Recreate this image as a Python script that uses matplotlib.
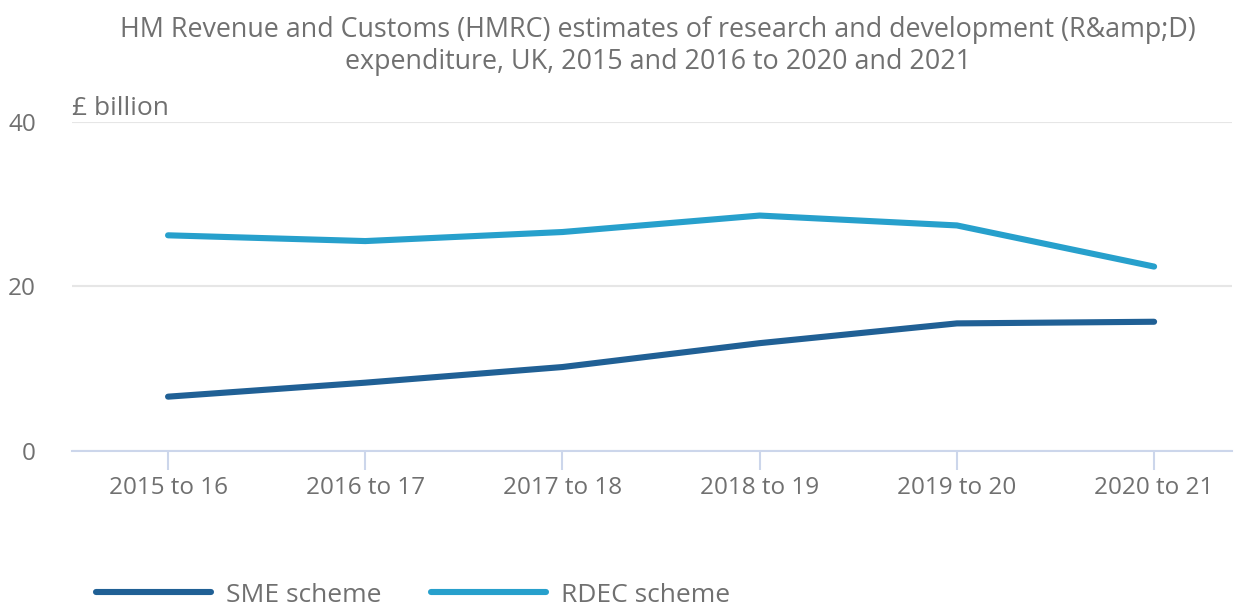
import matplotlib
matplotlib.use("Agg")
import matplotlib.pyplot as plt
import numpy as np

years = ["2015 to 16", "2016 to 17", "2017 to 18", "2018 to 19", "2019 to 20", "2020 to 21"]
sme = [6.6, 8.3, 10.2, 13.1, 15.5, 15.7]
rdec = [26.2, 25.5, 26.6, 28.6, 27.4, 22.4]

TEXT = "#707070"
plt.rcParams["font.family"] = ["Open Sans", "DejaVu Sans"]

fig = plt.figure(figsize=(12.47, 6.07), dpi=100)
ax = fig.add_axes([72 / 1247, 1 - 451 / 607, (1232 - 72) / 1247, (451 - 121.7) / 607])

x = np.arange(len(years))
ax.plot(x, sme, color="#206095", lw=4.4, solid_capstyle="round", label="SME scheme")
ax.plot(x, rdec, color="#27a0cc", lw=4.4, solid_capstyle="round", label="RDEC scheme")

ax.set_xlim(-0.487, 5.395)
ax.set_ylim(0, 40)
ax.set_yticks([0, 20, 40])
ax.yaxis.grid(True, color="#e6e6e6", lw=1.5)
ax.set_axisbelow(True)
for s in ["top", "right", "left"]:
    ax.spines[s].set_visible(False)
ax.spines["bottom"].set_color("#ccd6eb")
ax.spines["bottom"].set_linewidth(1.5)
ax.set_xticks(x)
ax.set_xticklabels(years)
ax.tick_params(axis="x", length=14, width=1.5, color="#ccd6eb", colors=TEXT,
               labelsize=17.5, pad=4)
ax.tick_params(axis="y", length=0, colors=TEXT, labelsize=17.5, pad=26)

ax.text(0, 1.003, "£ billion", transform=ax.transAxes, ha="left", va="bottom",
        fontsize=19, color=TEXT)

fig.text(658 / 1247, 1 - 46 / 607,
         "HM Revenue and Customs (HMRC) estimates of research and development (R&amp;D)\n"
         "expenditure, UK, 2015 and 2016 to 2020 and 2021",
         ha="center", va="center", fontsize=19.4, color=TEXT, linespacing=1.2)

fig.legend(loc="center left", bbox_to_anchor=(80 / 1247, 1 - 595 / 607), ncol=2, frameon=False,
           fontsize=19, labelcolor=TEXT, handlelength=4.35, handletextpad=0.6,
           columnspacing=1.85, borderaxespad=0.2)

fig.savefig("out.png", dpi=100)
